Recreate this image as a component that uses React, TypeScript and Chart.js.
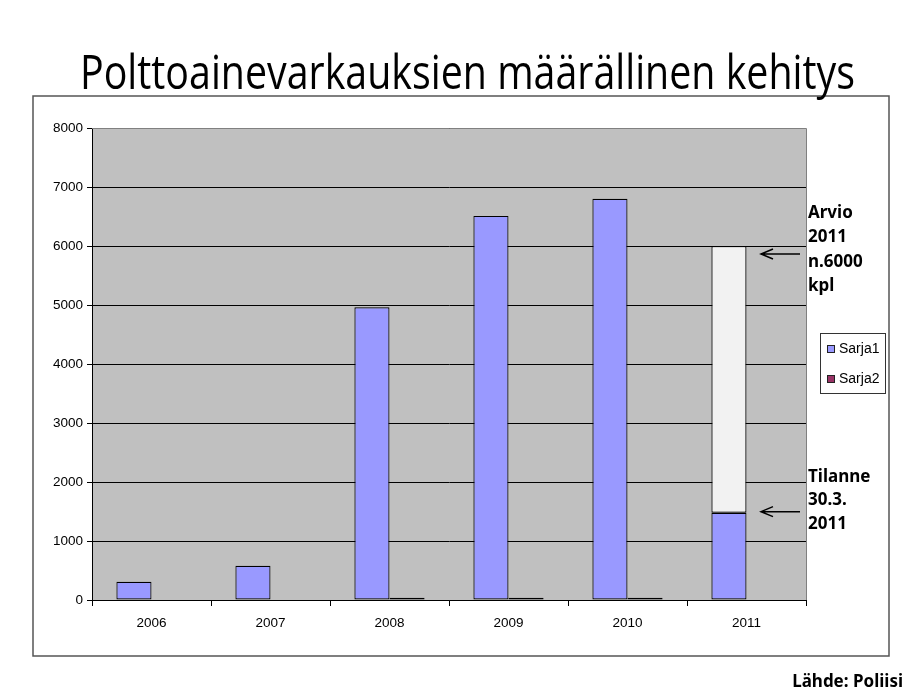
import React, { useEffect, useRef } from 'react';
import { Chart, registerables } from 'chart.js';

Chart.register(...registerables);

const TITLE = 'Polttoainevarkauksien määrällinen kehitys';
const years = ['2006', '2007', '2008', '2009', '2010', '2011'];
const sarja1 = [310, 580, 4960, 6510, 6800, 1480];
const sarja2 = [0, 0, 40, 40, 40, 0];
const arvio = [null, null, null, null, null, 6000];
const yTicks = [0, 1000, 2000, 3000, 4000, 5000, 6000, 7000, 8000];
const arvioLines = ['Arvio', '2011', 'n.6000', 'kpl'];
const tilanneLines = ['Tilanne', '30.3.', '2011'];
const SOURCE = 'Lähde: Poliisi';

const arvioExtra = arvio.map((v, i) => (v == null ? null : v - sarja1[i]));

const decorPlugin = {
  id: 'decor',
  beforeDraw(chart: any) {
    const { ctx, chartArea: a } = chart;
    ctx.save();
    ctx.fillStyle = '#ffffff';
    ctx.fillRect(0, 0, chart.width, chart.height);
    ctx.fillStyle = '#C0C0C0';
    ctx.fillRect(a.left, a.top, a.right - a.left, a.bottom - a.top);
    ctx.restore();
  },
  afterDraw(chart: any) {
    const { ctx, chartArea: a } = chart;
    const yS = chart.scales.y;
    ctx.save();
    // plot border (top / right)
    ctx.strokeStyle = '#808080';
    ctx.lineWidth = 1;
    ctx.beginPath();
    ctx.moveTo(a.left, a.top + 0.5);
    ctx.lineTo(a.right + 0.5, a.top + 0.5);
    ctx.lineTo(a.right + 0.5, a.bottom);
    ctx.stroke();
    // outer frame
    ctx.strokeStyle = '#555555';
    ctx.lineWidth = 1.5;
    ctx.strokeRect(33, 96, 856, 560);

    // title
    ctx.fillStyle = '#000';
    ctx.font = '47px "Open Sans"';
    ctx.textBaseline = 'alphabetic';
    ctx.textAlign = 'left';
    const tw = ctx.measureText(TITLE).width;
    const target = 775;
    ctx.save();
    ctx.translate(80, 89);
    ctx.scale(target / tw, 1);
    ctx.fillText(TITLE, 0, 0);
    ctx.restore();

    // annotations
    ctx.font = 'bold 17px "Noto Sans"';
    ctx.textBaseline = 'middle';
    ctx.fillStyle = '#000';
    arvioLines.forEach((t, i) => ctx.fillText(t, 808, 213 + i * 24.5));
    tilanneLines.forEach((t, i) => ctx.fillText(t, 808, 477 + i * 23.5));

    // arrows
    const yArvio = yS.getPixelForValue(arvio[5] as number);
    const yTil = yS.getPixelForValue(sarja1[5]);
    ctx.strokeStyle = '#000';
    ctx.lineWidth = 1.5;
    [yArvio + 8, yTil - 1].forEach((y) => {
      ctx.beginPath();
      ctx.moveTo(800, y);
      ctx.lineTo(761, y);
      ctx.moveTo(773, y - 5);
      ctx.lineTo(761, y);
      ctx.lineTo(773, y + 5);
      ctx.stroke();
    });

    // legend
    ctx.fillStyle = '#fff';
    ctx.fillRect(820, 333, 65, 60);
    ctx.strokeStyle = '#333';
    ctx.lineWidth = 1;
    ctx.strokeRect(820.5, 333.5, 65, 60);
    const ds = chart.data.datasets;
    [0, 1].forEach((k, i) => {
      const y = 349 + i * 30;
      ctx.fillStyle = ds[k].backgroundColor;
      ctx.fillRect(827, y - 3.5, 7, 7);
      ctx.strokeStyle = '#222';
      ctx.strokeRect(827.5, y - 3.5, 7, 7);
      ctx.fillStyle = '#000';
      ctx.font = '14px "Liberation Sans"';
      ctx.textBaseline = 'middle';
      ctx.fillText(ds[k].label, 839, y);
    });

    // source
    ctx.font = 'bold 17px "Noto Sans"';
    ctx.textAlign = 'right';
    ctx.fillStyle = '#000';
    ctx.fillText(SOURCE, 903, 682);
    ctx.restore();
  },
};

export default function App() {
  const ref = useRef<HTMLCanvasElement | null>(null);
  useEffect(() => {
    document.body.style.margin = '0';
    const canvas = ref.current!;
    const chart = new Chart(canvas, {
      type: 'bar',
      data: {
        labels: years,
        datasets: [
          {
            label: 'Sarja1',
            data: sarja1,
            stack: 'a',
            backgroundColor: '#9999FF',
            borderColor: '#000',
            borderWidth: 1.2,
            borderSkipped: false,
          },
          {
            label: 'Sarja2',
            data: sarja2,
            stack: 'b',
            backgroundColor: '#993366',
            borderColor: '#000',
            borderWidth: (c: any) => (c.raw ? 1 : 0),
            borderSkipped: false,
          },
          {
            label: 'Arvio',
            data: arvioExtra,
            stack: 'a',
            backgroundColor: '#F2F2F2',
            borderColor: '#000',
            borderWidth: 1.2,
            borderSkipped: false,
          },
        ],
      },
      options: {
        animation: false,
        responsive: false,
        devicePixelRatio: 1,
        categoryPercentage: 0.59,
        barPercentage: 1,
        layout: { padding: { left: 40, right: 104, top: 128, bottom: 40 } },
        plugins: { legend: { display: false }, tooltip: { enabled: false }, title: { display: false } },
        scales: {
          x: {
            stacked: true,
            grid: { offset: true, drawOnChartArea: false, drawTicks: true, tickLength: 6, color: '#000' },
            border: { color: '#000', width: 1 },
            ticks: { font: { family: 'Liberation Sans', size: 13.5 }, color: '#000', padding: 9 },
            afterFit: (s: any) => { s.height = 49; },
          },
          y: {
            stacked: true,
            min: 0,
            max: 8000,
            afterBuildTicks: (s: any) => { s.ticks = yTicks.map((v) => ({ value: v })); },
            ticks: {
              font: { family: 'Liberation Sans', size: 13.5 },
              color: '#000',
              padding: 4,
              callback: (v: any) => String(v),
            },
            grid: { color: '#000', tickLength: 5 },
            border: { color: '#000', width: 1 },
            afterFit: (s: any) => { s.width = 52; },
          },
        },
      } as any,
      plugins: [decorPlugin],
    });
    return () => chart.destroy();
  }, []);
  return (
    <div style={{ position: 'absolute', left: 0, top: 0, width: 910, height: 689 }}>
      <canvas ref={ref} width={910} height={689} />
    </div>
  );
}
